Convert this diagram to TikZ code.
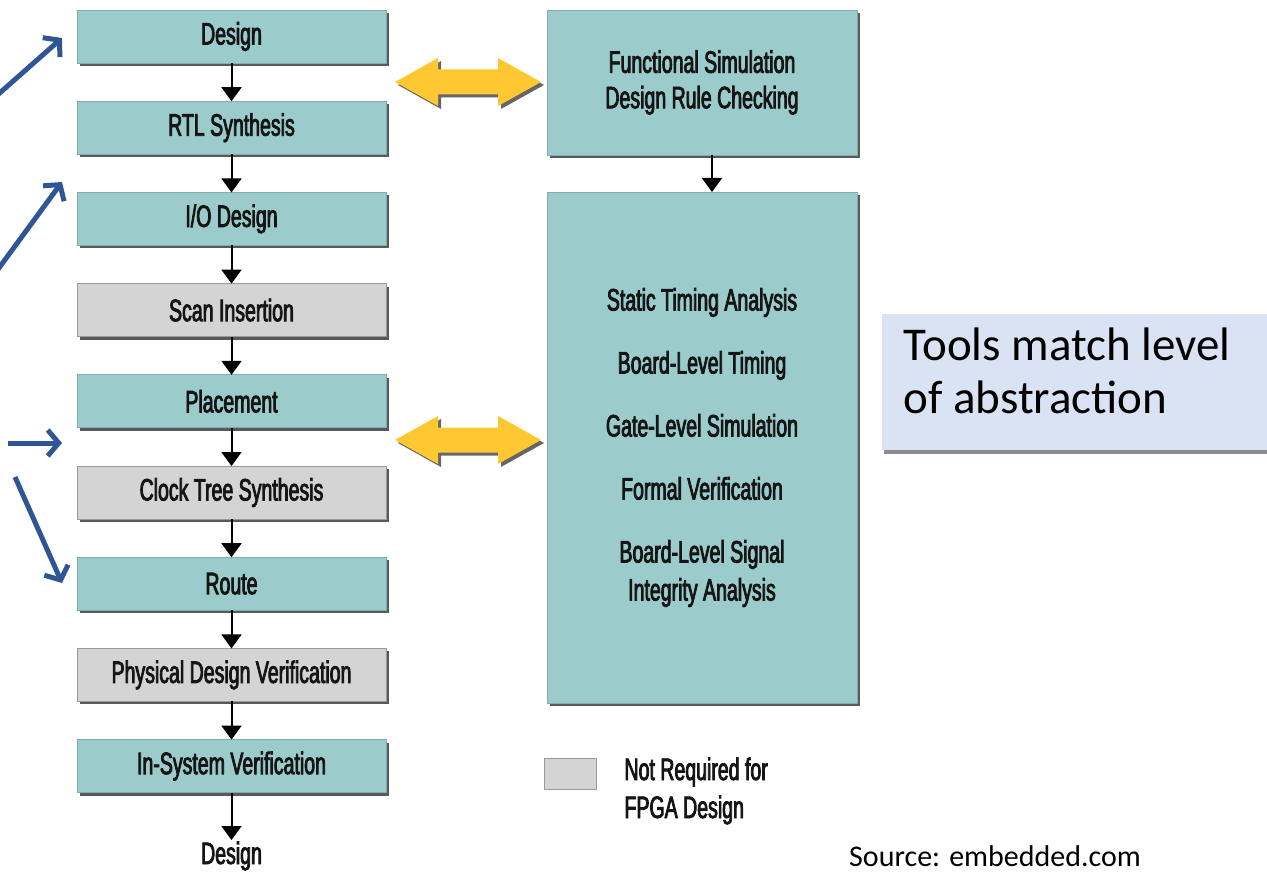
\documentclass[tikz,border=0pt]{standalone}
\usepackage{fontspec}
\setmainfont{Liberation Sans}
\newfontfamily\condfont[FakeStretch=0.63,FakeBold=2.6]{Liberation Sans}
\newfontfamily\calfont{Carlito}
\usetikzlibrary{arrows.meta,shadows,calc}
\definecolor{tealbox}{HTML}{9BCBCB}
\definecolor{tealedge}{HTML}{7FAEB0}
\definecolor{graybox}{HTML}{D4D4D4}
\definecolor{grayedge}{HTML}{9A9A9A}
\definecolor{yel}{HTML}{FFC832}
\definecolor{bluearr}{HTML}{2F5597}
\definecolor{toolsbg}{HTML}{DAE3F3}
\definecolor{txt}{HTML}{151515}
\tikzset{
  shd/.style={drop shadow={shadow xshift=3pt,shadow yshift=-3pt,fill=black!65,opacity=1}},
  flowbox/.style={rectangle,minimum width=309pt,minimum height=53pt,inner sep=0pt,outer sep=0pt,
    fill=tealbox,draw=tealedge,line width=0.8pt,shd,text=txt,font=\condfont\fontsize{31}{36}\selectfont},
  graystep/.style={flowbox,fill=graybox,draw=grayedge},
  bigbox/.style={flowbox,minimum width=310pt,align=center},
  flowarr/.style={line width=2pt,-{Triangle[length=14pt,width=20pt]}},
  bluearrow/.style={draw=bluearr,line width=5pt,-{Straight Barb[length=11pt,width=26pt]}},
  plain/.style={text=txt,font=\condfont\fontsize{31}{38}\selectfont},
}
\newcommand\yellowarrow[1]{%
  \fill[black!60] ($(#1)+(3,3)$) ++(-73,0) -- ++(43,-24) -- ++(0,11.5) -- ++(60,0) -- ++(0,-11.5) -- ++(43,24)
     -- ++(-43,24) -- ++(0,-11.5) -- ++(-60,0) -- ++(0,11.5) -- cycle;
  \fill[yel] (#1) ++(-73,0) -- ++(43,-24) -- ++(0,11.5) -- ++(60,0) -- ++(0,-11.5) -- ++(43,24)
     -- ++(-43,24) -- ++(0,-11.5) -- ++(-60,0) -- ++(0,11.5) -- cycle;}
\begin{document}
\begin{tikzpicture}[x=1pt,y=-1pt]
\useasboundingbox (0,0) rectangle (1267,872);
% left column
\node[flowbox] (d) at (231.5,36.5) {Design};
\node[flowbox] (rtl) at (231.5,127.7) {RTL Synthesis};
\node[flowbox] (io) at (231.5,218.9) {I/O Design};
\node[graystep] (scan) at (231.5,310.1) {Scan Insertion};
\node[flowbox] (pl) at (231.5,401.3) {Placement};
\node[graystep] (cts) at (231.5,492.5) {Clock Tree Synthesis};
\node[flowbox] (rt) at (231.5,583.7) {Route};
\node[graystep] (pdv) at (231.5,674.9) {Physical Design Verification};
\node[flowbox] (isv) at (231.5,766.1) {In-System Verification};
\node[plain] (dout) at (231.5,856) {Design};
\foreach \a/\b in {d/rtl,rtl/io,io/scan,scan/pl,pl/cts,cts/rt,rt/pdv,pdv/isv}
  \draw[flowarr] (\a.south) -- (\b.north);
\draw[flowarr] (isv.south) -- ($(dout.north)+(0,2)$);
% right column
\node[bigbox,minimum height=145pt] (fs) at (702,82.5) {Functional Simulation\\[-0.5pt]Design Rule Checking};
\node[bigbox,minimum height=511pt,font=\condfont\fontsize{31}{38}\selectfont] (big) at (702,447.5)
  {Static Timing Analysis\\[25pt]Board-Level Timing\\[25pt]Gate-Level Simulation\\[25pt]Formal Verification\\[25pt]Board-Level Signal\\Integrity Analysis};
\draw[flowarr] ($(fs.south)+(10,0)$) -- ($(big.north)+(10,0)$);
% yellow arrows
\coordinate (y1) at (468,82);
\coordinate (y2) at (468,440);
\yellowarrow{y1}
\yellowarrow{y2}
% legend
\node[rectangle,minimum width=52pt,minimum height=31pt,fill=graybox,draw=grayedge,line width=1pt] (leg) at (570,773.5) {};
\node[plain,anchor=west,align=left] (legt) at (621,791) {Not Required for\\FPGA Design};
% tools box
\fill[black!45] (884,318) rectangle (1272,454);
\node[rectangle,fill=toolsbg,minimum width=390pt,minimum height=136pt,anchor=north west,inner sep=0pt] (tools) at (882,314) {};
\node[anchor=west,align=left,font=\calfont\fontsize{47}{53}\selectfont,text=black] (toolst) at (900,371) {Tools match level\\of abstraction};
% source
\node[anchor=base west,font=\calfont\fontsize{30}{36}\selectfont,text=black,inner sep=0pt] (src) at (849,866) {Source: embedded.com};
% blue arrows
\coordinate (b1s) at (-6,98); \coordinate (b1e) at (62,38);
\coordinate (b2s) at (-4,272); \coordinate (b2e) at (62,182);
\coordinate (b3s) at (8,443); \coordinate (b3e) at (62,443);
\coordinate (b4s) at (15,477); \coordinate (b4e) at (62,583);
\draw[bluearrow] (b1s) -- (b1e);
\draw[bluearrow] (b2s) -- (b2e);
\draw[bluearrow] (b3s) -- (b3e);
\draw[bluearrow] (b4s) -- (b4e);
\end{tikzpicture}
\end{document}
